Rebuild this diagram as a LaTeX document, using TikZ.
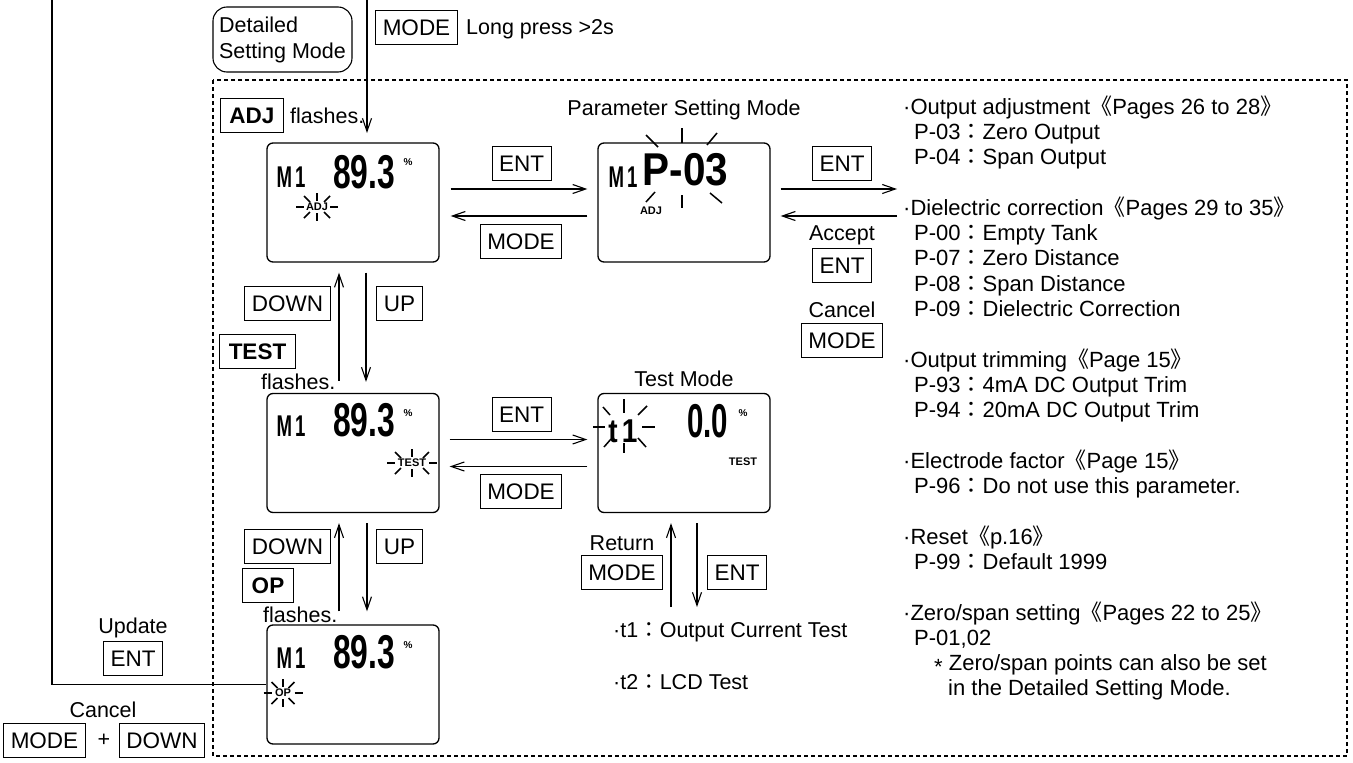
\documentclass[tikz,border=0pt]{standalone}
\usepackage{fontspec}
\setmainfont{Liberation Sans}
\newfontfamily\cjk{Noto Sans CJK JP}
\usetikzlibrary{arrows.meta,calc}
\newcommand\txtf{\fontsize{21.5}{25}\selectfont}
\newcommand\lstf{\fontsize{22}{25}\selectfont}
\newcommand\btnf{\fontsize{22.5}{24}\selectfont}
\newcommand\myLB{{\cjk 《}}
\newcommand\myRB{{\cjk 》}}
\newcommand\myCol{{\cjk ：}}
\newcommand\lcdsm{\fontsize{11}{11}\selectfont\bfseries}
\newcommand\flash[5]{%
  \draw[ray] ({#1-(#3)-10},#2) -- ({#1-(#3)-2},#2);
  \draw[ray] ({#1+(#3)+2},#2) -- ({#1+(#3)+10},#2);
  \draw[ray] (#1,{#2-14}) -- (#1,{#2-6});
  \draw[ray] (#1,{#2+6}) -- (#1,{#2+14});
  \draw[ray] ({#1-(#3)+4},{#2-5}) -- ({#1-(#3)-2},{#2-11});
  \draw[ray] ({#1+(#3)-4},{#2-5}) -- ({#1+(#3)+2},{#2-11});
  \draw[ray] ({#1-(#3)+4},{#2+5}) -- ({#1-(#3)-2},{#2+11});
  \draw[ray] ({#1+(#3)-4},{#2+5}) -- ({#1+(#3)+2},{#2+11});
  \node[lcdt,font=\lcdsm] (#4) at (#1,#2) {#5};
}
\begin{document}
\begin{tikzpicture}[x=1pt,y=-1pt,
  lcd/.style={draw,rounded corners=6pt,minimum width=172pt,minimum height=119pt,line width=1.3pt,inner sep=0pt},
  btn/.style={draw,line width=1pt,font=\btnf,inner xsep=7pt,inner ysep=0pt,minimum height=34pt,text height=16pt,text depth=0pt},
  bbtn/.style={btn,font=\btnf\bfseries,inner xsep=9pt},
  lbl/.style={font=\txtf,inner sep=0pt},
  lst/.style={font=\lstf,inner sep=0pt,anchor=base west},
  arr/.style={line width=1.1pt,-{Straight Barb[length=13pt,width=9pt]}},
  ln/.style={line width=1.1pt},
  ray/.style={line width=1.5pt},
  lcdt/.style={inner sep=0pt,font=\bfseries},
]
\useasboundingbox (0,0) rectangle (1353,763);

% dashed frame
\draw[ln,dash pattern=on 4pt off 3pt] (213,80) rectangle (1347,756);

% top
\node[draw,ln,rounded corners=14pt,minimum width=139pt,minimum height=65pt,align=left,inner sep=2pt,font=\fontsize{21.5}{26}\selectfont] (dsm) at (282.5,39.5) {Detailed\\Setting Mode};
\node[btn] (bmode0) at (416.5,27) {MODE};
\node[lbl,anchor=base west] (lp) at (466,34) {Long press >2s};
\coordinate (mtop) at (367,0);
\coordinate (mtip) at (367,133);
\draw[arr] (mtop) -- (mtip);

% displays
\node[lcd] (d1) at (353,202.5) {};
\node[lcd] (d2) at (684,202.5) {};
\node[lcd] (d3) at (353,453) {};
\node[lcd] (d4) at (684,453) {};
\node[lcd] (d5) at (353,684.5) {};

% display 1
\node[lcdt] (d1m) at (291,177) {\fontsize{30}{30}\selectfont\scalebox{0.62}[1]{M\,1}};
\node[lcdt] (d1n) at (364,172) {\fontsize{47.5}{48}\selectfont\scalebox{0.67}[1]{89.3}};
\node[lcdt] (d1p) at (408,162) {\fontsize{10}{10}\selectfont\%};
\flash{317}{207}{11}{d1f}{ADJ}

% display 2
\node[lcdt] (d2m) at (623,177) {\fontsize{30}{30}\selectfont\scalebox{0.62}[1]{M\,1}};
\node[lcdt] (d2n) at (685.5,169.5) {\fontsize{46}{46}\selectfont\scalebox{0.88}[1]{P-03}};
\node[lcdt,font=\lcdsm] (d2a) at (651,211) {ADJ};
\draw[ray] (646,135) -- (658,147);
\draw[ray] (682,128) -- (682,143);
\draw[ray] (717,133) -- (707,145);
\draw[ray] (655,192) -- (646,202);
\draw[ray] (682,195) -- (682,208);
\draw[ray] (710,193) -- (722,203);
\node[lbl,anchor=base] (psm) at (684,115) {Parameter Setting Mode};

% display 3
\node[lcdt] (d3m) at (291,426) {\fontsize{30}{30}\selectfont\scalebox{0.62}[1]{M\,1}};
\node[lcdt] (d3n) at (364,420.5) {\fontsize{47.5}{48}\selectfont\scalebox{0.67}[1]{89.3}};
\node[lcdt] (d3p) at (408,413) {\fontsize{10}{10}\selectfont\%};
\flash{412}{463}{15}{d3f}{TEST}

% display 4
\node[lcdt] (d4t) at (623,431) {\fontsize{33}{33}\selectfont\scalebox{0.85}[1]{t\hspace{5pt}1}};
\draw[ray] (593,427) -- (605,427);
\draw[ray] (642,427) -- (655,427);
\draw[ray] (624,399) -- (624,413);
\draw[ray] (624,443) -- (624,453);
\draw[ray] (603,407) -- (610,415);
\draw[ray] (647,406) -- (638,415);
\draw[ray] (611,439) -- (604,447);
\draw[ray] (638,438) -- (646,447);
\node[lcdt] (d4n) at (707.5,421) {\fontsize{47.5}{48}\selectfont\scalebox{0.62}[1]{0.0}};
\node[lcdt] (d4p) at (743,413) {\fontsize{10}{10}\selectfont\%};
\node[lcdt,font=\lcdsm] (d4a) at (743,462) {TEST};
\node[lbl,anchor=base] (tm) at (684,386) {Test Mode};

% display 5
\node[lcdt] (d5m) at (291,658) {\fontsize{30}{30}\selectfont\scalebox{0.62}[1]{M\,1}};
\node[lcdt] (d5n) at (364,652.5) {\fontsize{47.5}{48}\selectfont\scalebox{0.67}[1]{89.3}};
\node[lcdt] (d5p) at (408,645) {\fontsize{10}{10}\selectfont\%};
\flash{283}{693}{9.5}{d5f}{OP}

% buttons and labels
\node[bbtn] (badj) at (252,115.5) {ADJ};
\node[lbl,anchor=base west] (fl1) at (290,123) {flashes.};
\node[btn] (bent1) at (521.5,163) {ENT};
\node[btn] (bmode1) at (521,241) {MODE};
\node[btn] (bent2) at (842,163) {ENT};
\node[lbl,anchor=base] (acc) at (842,240) {Accept};
\node[btn] (bent3) at (842,265) {ENT};
\node[lbl,anchor=base] (can1) at (842,317) {Cancel};
\node[btn] (bmode2) at (842,340) {MODE};
\node[btn] (bdown1) at (287.5,303) {DOWN};
\node[btn] (bup1) at (399.5,303) {UP};
\node[bbtn] (btest) at (257.5,351) {TEST};
\node[lbl,anchor=base west] (fl2) at (261,389) {flashes.};
\node[btn] (bent4) at (521.5,414) {ENT};
\node[btn] (bmode3) at (521,491) {MODE};
\node[btn] (bdown2) at (287.5,546) {DOWN};
\node[btn] (bup2) at (399.5,546) {UP};
\node[bbtn] (bop) at (268,585.5) {OP};
\node[lbl,anchor=base west] (fl3) at (263,622) {flashes.};
\node[lbl,anchor=base] (ret) at (622,550) {Return};
\node[btn] (bmode4) at (622,572) {MODE};
\node[btn] (bent5) at (737,572) {ENT};
\node[lbl,anchor=base] (upd) at (133,633) {Update};
\node[btn] (bent6) at (133,658) {ENT};
\node[lbl,anchor=base] (can2) at (103,717) {Cancel};
\node[btn] (bmode5) at (44.5,740) {MODE};
\node[lbl] (plus) at (104,740) {+};
\node[btn] (bdown3) at (162,740) {DOWN};

% connectors
\draw[arr] ([xshift=11pt,yshift=13.5pt]d1.east) -- ([xshift=-10pt,yshift=13.5pt]d2.west);
\draw[arr] ([xshift=-10pt,yshift=-13.5pt]d2.west) -- ([xshift=11pt,yshift=-13.5pt]d1.east);
\coordinate (lin) at (897,189);
\coordinate (lout) at (897,216);
\draw[arr] ([xshift=10pt,yshift=13.5pt]d2.east) -- (lin);
\draw[arr] (lout) -- ([xshift=10pt,yshift=-13.5pt]d2.east);

\draw[arr] ([xshift=-14pt,yshift=12pt]d3.north) -- ([xshift=-14pt,yshift=-10pt]d1.south);
\draw[arr] ([xshift=13pt,yshift=-10pt]d1.south) -- ([xshift=13pt,yshift=11pt]d3.north);
\draw[arr] ([xshift=-14pt,yshift=13pt]d5.north) -- ([xshift=-14pt,yshift=-10pt]d3.south);
\draw[arr] ([xshift=14pt,yshift=-10pt]d3.south) -- ([xshift=14pt,yshift=13pt]d5.north);

\draw[arr] ([xshift=10pt,yshift=13.5pt]d3.east) -- ([xshift=-10pt,yshift=13.5pt]d4.west);
\draw[arr] ([xshift=-10pt,yshift=-13.5pt]d4.west) -- ([xshift=10pt,yshift=-13.5pt]d3.east);

\coordinate (u4a) at (671,607);
\coordinate (u4b) at (697,607);
\draw[arr] (u4a) -- ([xshift=-13pt,yshift=-10pt]d4.south);
\draw[arr] ([xshift=13pt,yshift=-10pt]d4.south) -- (u4b);

\coordinate (ltop) at (52,0);
\draw[ln] (ltop) |- (d5.west);

% test list
\node[lst,font=\txtf] (t1l) at (613,637) {·t1\myCol Output Current Test};
\node[lst,font=\txtf] (t2l) at (613,689) {·t2\myCol LCD Test};

% parameter list
\node[lst] (r1) at (903,114) {·Output adjustment\myLB Pages 26 to 28\myRB};
\node[lst] (r2) at (914,139.3) {P-03\myCol Zero Output};
\node[lst] (r3) at (914,164.6) {P-04\myCol Span Output};
\node[lst] (r4) at (903,215.2) {·Dielectric correction\myLB Pages 29 to 35\myRB};
\node[lst] (r5) at (914,240.5) {P-00\myCol Empty Tank};
\node[lst] (r6) at (914,265.8) {P-07\myCol Zero Distance};
\node[lst] (r7) at (914,291.1) {P-08\myCol Span Distance};
\node[lst] (r8) at (914,316.4) {P-09\myCol Dielectric Correction};
\node[lst] (r9) at (903,367) {·Output trimming\myLB Page 15\myRB};
\node[lst] (r10) at (914,392.3) {P-93\myCol 4mA DC Output Trim};
\node[lst] (r11) at (914,417.6) {P-94\myCol 20mA DC Output Trim};
\node[lst] (r12) at (903,468.2) {·Electrode factor\myLB Page 15\myRB};
\node[lst] (r13) at (914,493.5) {P-96\myCol Do not use this parameter.};
\node[lst] (r14) at (903,544.1) {·Reset\myLB p.16\myRB};
\node[lst] (r15) at (914,569.4) {P-99\myCol Default 1999};
\node[lst] (r16) at (903,620) {·Zero/span setting\myLB Pages 22 to 25\myRB};
\node[lst] (r17) at (914,645.3) {P-01,02};
\node[lst] (r18) at (934,670.6) {\raisebox{-4pt}{*} Zero/span points can also be set};
\node[lst] (r19) at (948,695.9) {in the Detailed Setting Mode.};
\end{tikzpicture}
\end{document}
